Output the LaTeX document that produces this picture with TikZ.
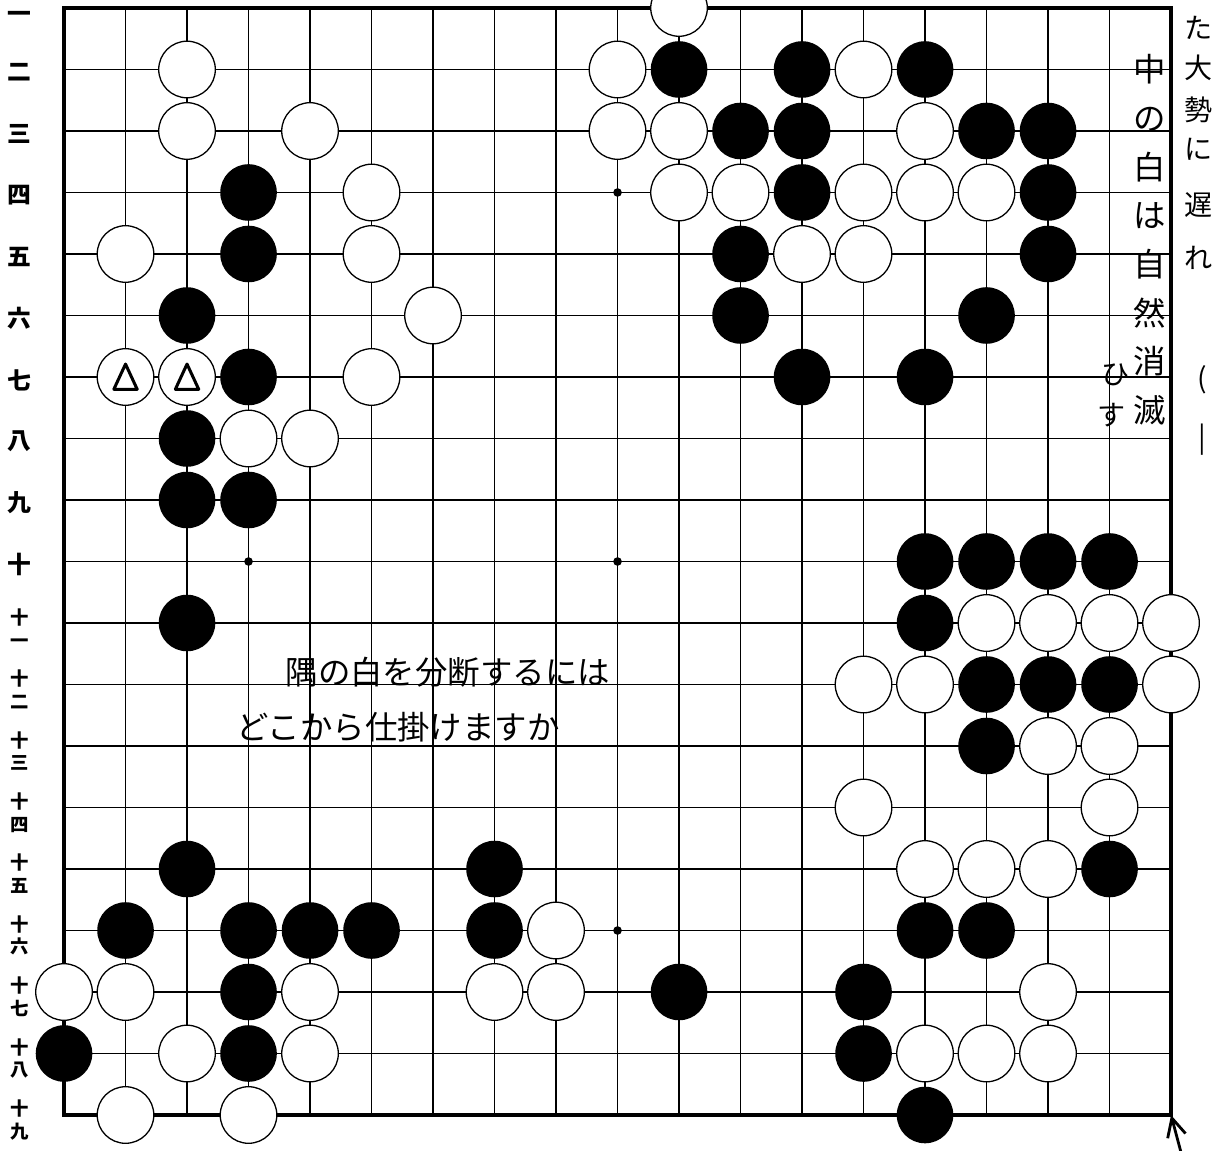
\documentclass[tikz,border=0pt]{standalone}
\usepackage{fontspec}
\newfontfamily\jp{Noto Sans CJK JP}
\usetikzlibrary{arrows.meta}

\tikzset{
  bstone/.style={circle, fill=black, inner sep=0pt, minimum size=0.92cm},
  wstone/.style={circle, draw=black, fill=white, line width=0.6pt, inner sep=0pt, minimum size=0.92cm},
  hand/.style={font=\jp\fontsize{15}{21}\selectfont},
  sidehand/.style={font=\jp\fontsize{13}{13}\selectfont, inner sep=0pt},
  numlabel/.style={font=\jp\bfseries\fontsize{11}{12}\selectfont},
  numlabeltwo/.style={font=\jp\bfseries\fontsize{8.5}{10.5}\selectfont, align=center},
}

\begin{document}
\begin{tikzpicture}

    % 画像の範囲（1マス = 1cm）
    \useasboundingbox (-1.041,0.130) rectangle (18.715,-18.585);

    % 碁盤の線
    \draw [line width=0.6pt] (0,-18) grid (18,0);
    \draw [line width=1.8pt] (0,0) rectangle (18,-18);

    % 星
    \foreach \x in {3,9,15} {
        \foreach \y in {3,9,15} {
            \fill (\x,-\y) circle (0.07);
        }
    }

    % 黒石
    \foreach \x/\y in {10/1,12/1,14/1, 11/2,12/2,15/2,16/2, 3/3,12/3,16/3,
                       3/4,11/4,16/4, 2/5,11/5,15/5, 3/6,12/6,14/6, 2/7, 2/8,3/8,
                       14/9,15/9,16/9,17/9, 2/10,14/10, 15/11,16/11,17/11, 15/12,
                       2/14,7/14,17/14, 1/15,3/15,4/15,5/15,7/15,14/15,15/15,
                       3/16,10/16,13/16, 0/17,3/17,13/17, 14/18} {
        \node [bstone] (b-\x-\y) at (\x,-\y) {};
    }

    % 白石
    \foreach \x/\y in {10/0, 2/1,9/1,13/1, 2/2,4/2,9/2,10/2,14/2,
                       5/3,10/3,11/3,13/3,14/3,15/3, 1/4,5/4,12/4,13/4, 6/5,
                       1/6,2/6,5/6, 3/7,4/7, 15/10,16/10,17/10,18/10,
                       13/11,14/11,18/11, 16/12,17/12, 13/13,17/13,
                       14/14,15/14,16/14, 8/15, 0/16,1/16,4/16,7/16,8/16,16/16,
                       2/17,4/17,14/17,15/17,16/17, 1/18,3/18} {
        \node [wstone] (w-\x-\y) at (\x,-\y) {};
    }

    % 三角印
    \foreach \x in {1,2} {
        \draw [line width=1.4pt, line join=round] (\x,-6) ++(0,0.21) -- ++(-0.19,-0.41) -- ++(0.38,0) -- cycle;
    }

    % 左の番号
    \node [numlabel] (n-0) at (-0.72,-0.15) {一};
    \foreach \i/\t in {1/二,2/三,3/四,4/五,5/六,6/七,7/八,8/九,9/十} {
        \node [numlabel] (n-\i) at (-0.72,-\i-0.05) {\t};
    }
    \foreach \i/\t in {10/一,11/二,12/三,13/四,14/五,15/六,16/七,17/八,18/九} {
        \node [numlabeltwo] (n-\i) at (-0.72,-\i-0.08) {十\\\t};
    }

    % 問題文
    \node [hand] (q1) at (6.24,-10.80) {隅の白を分断するには};
    \node [hand] (q2) at (5.43,-11.69) {どこから仕掛けますか};

    % 右の書き込み
    \node [font=\jp\fontsize{15}{22.5}\selectfont, align=center] (memo) at (17.66,-3.77) {中\\の\\白\\は\\自\\然\\消\\滅};
    \node [font=\jp\fontsize{13}{13}\selectfont] (hi) at (17.10,-5.97) {ひ};
    \node [font=\jp\fontsize{13}{13}\selectfont] (su) at (17.04,-6.62) {す};
    \foreach \y/\c [count=\k] in {0.33/た,0.98/大,1.66/勢,2.3/に,3.2/遅,4.07/れ} {
        \node [sidehand] (side-\k) at (18.44,-\y) {\c};
    }
    \node [sidehand] (paren) at (18.50,-6.05) {(};
    \node [sidehand] (bar) at (18.50,-7.02) {|};

    % 右下の矢印
    \coordinate (corner) at (18,-18);
    \coordinate (tail) at (18.2,-18.75);
    \draw [-{Straight Barb[length=0.3cm,width=0.3cm]}, line width=1.3pt] (tail) -- (corner);

\end{tikzpicture}
\end{document}
